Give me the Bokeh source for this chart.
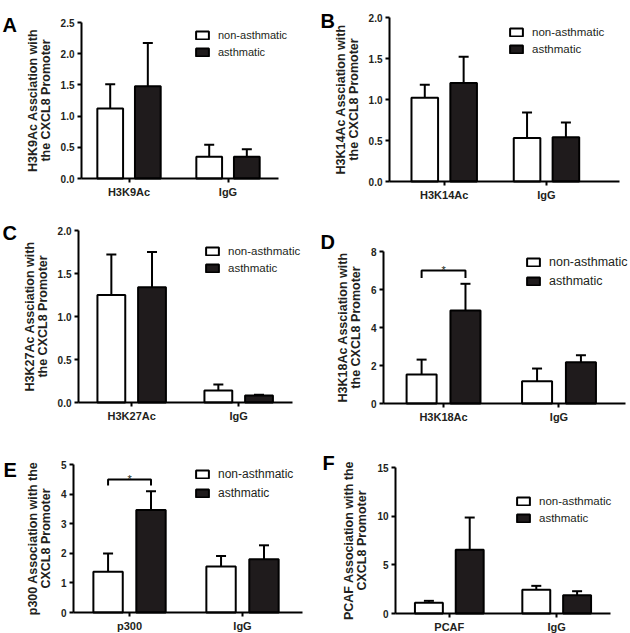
from bokeh.plotting import figure
from bokeh.models import (Range1d, FixedTicker, NumeralTickFormatter, ColumnDataSource,
                          Whisker, TeeHead, Legend, LegendItem, Label, LinearAxis)
from bokeh.embed import file_html
from bokeh.resources import INLINE
from bokeh.core.properties import value

FONT = "Liberation Sans"
INK = "#231f20"
BLACK_FILL = "#1f1b1c"

series_names = ["non-asthmatic", "asthmatic"]

# ---- Panel A ----
cats_A = ["H3K9Ac", "IgG"]
non_A = [1.12, 0.35]
non_err_A = [0.39, 0.19]
ast_A = [1.48, 0.35]
ast_err_A = [0.69, 0.12]
yticks_A = [0.0, 0.5, 1.0, 1.5, 2.0, 2.5]
ylabel_A = "H3K9Ac Assciation with\nthe CXCL8 Promoter"

# ---- Panel B ----
cats_B = ["H3K14Ac", "IgG"]
non_B = [1.02, 0.53]
non_err_B = [0.16, 0.31]
ast_B = [1.20, 0.54]
ast_err_B = [0.32, 0.18]
yticks_B = [0.0, 0.5, 1.0, 1.5, 2.0]
ylabel_B = "H3K14Ac Assciation with\nthe CXCL8 Promoter"

# ---- Panel C ----
cats_C = ["H3K27Ac", "IgG"]
non_C = [1.25, 0.14]
non_err_C = [0.47, 0.07]
ast_C = [1.34, 0.08]
ast_err_C = [0.41, 0.01]
yticks_C = [0.0, 0.5, 1.0, 1.5, 2.0]
ylabel_C = "H3K27Ac Assciation with\nthe CXCL8 Promoter"

# ---- Panel D ----
cats_D = ["H3K18Ac", "IgG"]
non_D = [1.52, 1.17]
non_err_D = [0.79, 0.67]
ast_D = [4.89, 2.17]
ast_err_D = [1.41, 0.37]
yticks_D = [0, 2, 4, 6, 8]
ylabel_D = "H3K18Ac Assciation with\nthe CXCL8 Promoter"
sig_D = {"group": 0, "y": 7.0, "drop": 6.6, "mark": "*"}

# ---- Panel E ----
cats_E = ["p300", "IgG"]
non_E = [1.38, 1.55]
non_err_E = [0.61, 0.36]
ast_E = [3.46, 1.80]
ast_err_E = [0.64, 0.47]
yticks_E = [0, 1, 2, 3, 4, 5]
ylabel_E = "p300 Association with the\nCXCL8 Promoter"
sig_E = {"group": 0, "y": 4.49, "drop": 4.29, "mark": "*"}

# ---- Panel F ----
cats_F = ["PCAF", "IgG"]
non_F = [1.10, 2.43]
non_err_F = [0.20, 0.41]
ast_F = [6.54, 1.88]
ast_err_F = [3.32, 0.41]
yticks_F = [0, 5, 10, 15]
ylabel_F = "PCAF Association with the\nCXCL8 Promoter"

# ---- canvas / layout (pixels) ----
W, H = 630, 633
OFF = 0.19
BW = 0.26

p = figure(width=W, height=H, x_range=Range1d(0, W), y_range=Range1d(0, H),
           x_axis_type=None, y_axis_type=None, title=None,
           output_backend="svg", toolbar_location=None,
           min_border=0, min_border_left=0, min_border_right=0,
           min_border_top=0, min_border_bottom=0)
p.outline_line_color = None
p.xgrid.visible = False
p.ygrid.visible = False
p.background_fill_color = "white"
p.border_fill_color = "white"


def style_axis(ax, size):
    ax.minor_tick_line_color = None
    ax.major_tick_in = 0
    ax.major_tick_out = 4
    ax.major_tick_line_width = 2
    ax.major_tick_line_color = "black"
    ax.axis_line_width = 2
    ax.axis_line_color = "black"
    ax.major_label_text_font = FONT
    ax.major_label_text_font_style = "bold"
    ax.major_label_text_font_size = size
    ax.major_label_text_color = INK
    ax.major_label_standoff = 3


def add_panel(key, letter, cats, non, non_err, ast, ast_err, yticks, ylabel, fmt, lay, sig=None):
    L, T, R, B = lay["frame"]
    xs, xe = lay["xr"]
    ymin, ymax = yticks[0], yticks[-1]
    sx = (xe - xs) / (R - L)
    sy = (ymax - ymin) / (B - T)
    xn, yn = "x" + key, "y" + key
    p.extra_x_ranges[xn] = Range1d(xs - L * sx, xs + (W - L) * sx)
    p.extra_y_ranges[yn] = Range1d(ymin + (B - H) * sy, ymin + B * sy)
    kw = dict(x_range_name=xn, y_range_name=yn)

    gx = [i + 1 for i in range(len(cats))]
    src_n = ColumnDataSource(dict(x=[g - OFF for g in gx], top=non,
                                  up=[v + e for v, e in zip(non, non_err)]))
    src_a = ColumnDataSource(dict(x=[g + OFF for g in gx], top=ast,
                                  up=[v + e for v, e in zip(ast, ast_err)]))
    for src in (src_n, src_a):
        p.add_layout(Whisker(source=src, base="x", lower="top", upper="up",
                             line_color="black", line_width=2, lower_head=None,
                             upper_head=TeeHead(size=10, line_width=2, line_color="black"),
                             level="glyph", **kw))
    r1 = p.vbar(x="x", top="top", bottom=ymin, width=BW, source=src_n, fill_color="white",
                line_color="black", line_width=2, **kw)
    r2 = p.vbar(x="x", top="top", bottom=ymin, width=BW, source=src_a, fill_color=BLACK_FILL,
                line_color="black", line_width=2, **kw)

    if sig is not None:
        g = gx[sig["group"]]
        p.line(x=[g - OFF, g - OFF, g + OFF, g + OFF],
               y=[sig["drop"], sig["y"], sig["y"], sig["drop"]],
               line_color="black", line_width=2, **kw)
        p.text(x=[g], y=[sig["y"]], text=[sig["mark"]], text_align="center",
               text_baseline="alphabetic", text_font=value(FONT),
               text_font_size="11px", text_color=INK, y_offset=-1, **kw)

    # x axis
    xa = LinearAxis(x_range_name=xn, y_range_name=yn, fixed_location=ymin,
                    bounds=(xs, xe), ticker=FixedTicker(ticks=gx))
    xa.major_label_overrides = {g: c for g, c in zip(gx, cats)}
    style_axis(xa, "11px")
    p.add_layout(xa, "below")

    # y axis
    ya = LinearAxis(x_range_name=xn, y_range_name=yn, fixed_location=xs,
                    bounds=(ymin, ymax), ticker=FixedTicker(ticks=yticks),
                    formatter=NumeralTickFormatter(format=fmt))
    style_axis(ya, "10px")
    ya.axis_label = ylabel
    ya.axis_label_text_font = FONT
    ya.axis_label_text_font_style = "bold"
    ya.axis_label_text_font_size = "12.5px"
    ya.axis_label_text_color = INK
    ya.axis_label_text_line_height = 0.92
    ya.axis_label_standoff = 5
    p.add_layout(ya, "left")

    # legend
    lx, ltop, lfs = lay["legend"]
    leg_h = 30
    legend = Legend(items=[LegendItem(label=series_names[0], renderers=[r1]),
                           LegendItem(label=series_names[1], renderers=[r2])],
                    location=(lx, H - ltop - leg_h),
                    glyph_width=16, glyph_height=10, label_height=10,
                    spacing=5, padding=0, margin=0, label_standoff=8,
                    border_line_color=None, background_fill_alpha=0,
                    label_text_font=FONT, label_text_font_size=f"{lfs}px",
                    label_text_color=INK)
    p.add_layout(legend)

    # panel letter
    lxx, lyy = lay["letter"]
    p.add_layout(Label(x=lxx, y=H - lyy, x_units="screen", y_units="screen",
                       text=letter, text_font=FONT, text_font_size="20px",
                       text_font_style="bold", text_color="black",
                       text_align="left", text_baseline="alphabetic"))


# frame = (left, top, right, bottom) in canvas pixels
lay_A = dict(frame=(81, 22, 278, 178), xr=(0.52, 2.51), legend=(194, 28, 11), letter=(2, 24))
lay_B = dict(frame=(389, 17, 619, 181), xr=(0.465, 2.714), legend=(508, 25, 11.5), letter=(320, 20))
lay_C = dict(frame=(78, 230, 292, 402), xr=(0.503, 2.503), legend=(204, 244, 11.5), letter=(2, 232))
lay_D = dict(frame=(383, 251, 625, 403), xr=(0.48, 2.576), legend=(525, 258, 12.5), letter=(320, 241))
lay_E = dict(frame=(73, 464, 302, 612), xr=(0.504, 2.531), legend=(194, 470, 12), letter=(3, 469))
lay_F = dict(frame=(395, 467, 610, 613), xr=(0.499, 2.501), legend=(515, 494, 11.5), letter=(322, 462))

add_panel("A", "A", cats_A, non_A, non_err_A, ast_A, ast_err_A, yticks_A, ylabel_A, "0.0", lay_A)
add_panel("B", "B", cats_B, non_B, non_err_B, ast_B, ast_err_B, yticks_B, ylabel_B, "0.0", lay_B)
add_panel("C", "C", cats_C, non_C, non_err_C, ast_C, ast_err_C, yticks_C, ylabel_C, "0.0", lay_C)
add_panel("D", "D", cats_D, non_D, non_err_D, ast_D, ast_err_D, yticks_D, ylabel_D, "0", lay_D, sig_D)
add_panel("E", "E", cats_E, non_E, non_err_E, ast_E, ast_err_E, yticks_E, ylabel_E, "0", lay_E, sig_E)
add_panel("F", "F", cats_F, non_F, non_err_F, ast_F, ast_err_F, yticks_F, ylabel_F, "0", lay_F)

open("out.html", "w").write(file_html(p, INLINE, "CXCL8 promoter association"))
